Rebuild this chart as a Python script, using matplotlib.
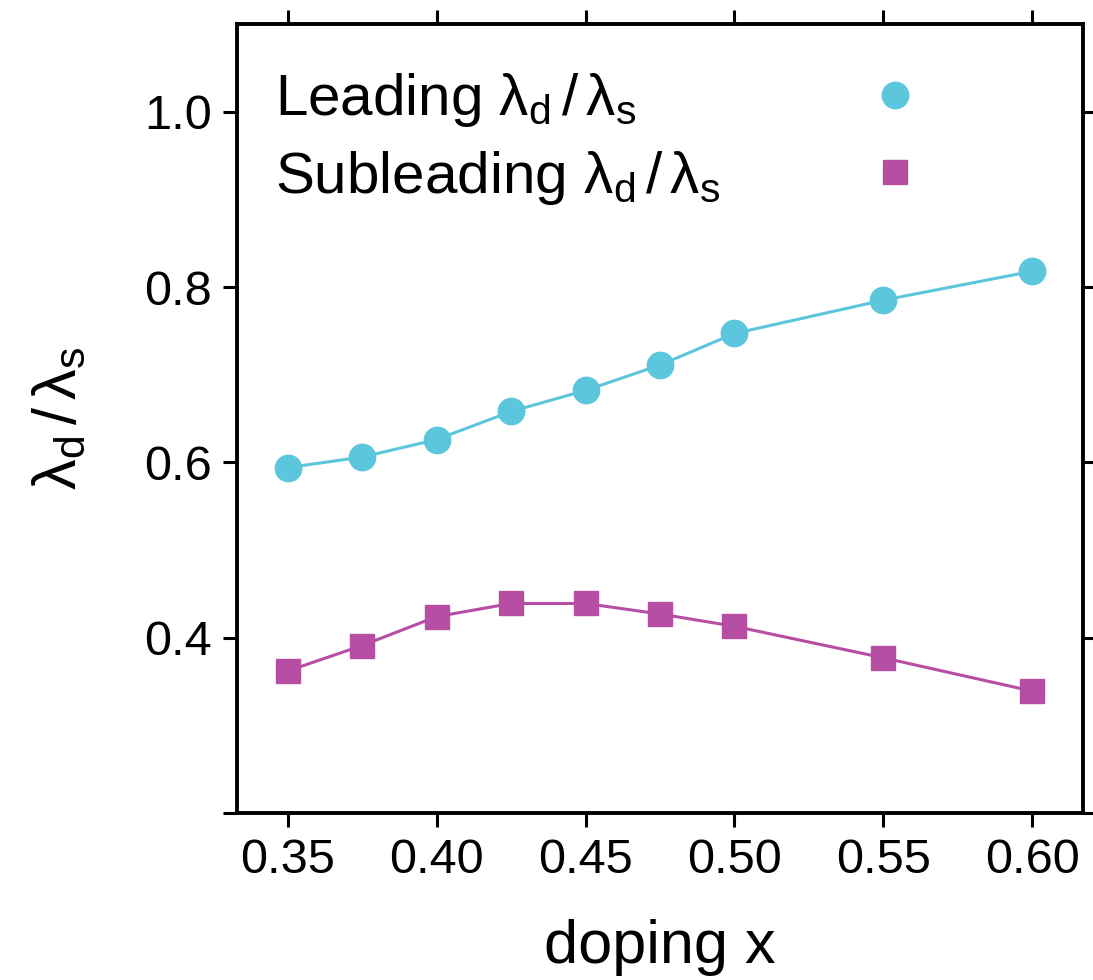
import matplotlib
matplotlib.use("Agg")
import matplotlib.pyplot as plt

plt.rcParams["font.family"] = ["Liberation Sans", "DejaVu Sans"]
plt.rcParams["mathtext.fontset"] = "custom"
plt.rcParams["mathtext.rm"] = "Liberation Sans"
plt.rcParams["mathtext.it"] = "Liberation Sans:italic"

doping = [0.35, 0.375, 0.40, 0.425, 0.45, 0.475, 0.50, 0.55, 0.60]
leading = [0.594, 0.606, 0.626, 0.658, 0.682, 0.711, 0.747, 0.785, 0.818]
subleading = [0.362, 0.391, 0.424, 0.439, 0.439, 0.427, 0.413, 0.377, 0.339]

x_ticks = [0.35, 0.40, 0.45, 0.50, 0.55, 0.60]
y_ticks = [0.2, 0.4, 0.6, 0.8, 1.0]
y_tick_labels = ["", "0.4", "0.6", "0.8", "1.0"]

CYAN = "#5cc6dc"
MAGENTA = "#b64ea4"
RATIO = r"$\mathrm{\lambda_d\,/\,\lambda_s}$"

fig = plt.figure(figsize=(10.93, 9.8), dpi=100)
ax = fig.add_axes([0.2168, 0.1704, 0.7741, 0.8051])

# connecting lines first, then markers carrying the legend labels
ax.plot(doping, leading, "-", color=CYAN, lw=2.2, zorder=2)
ax.plot(doping, subleading, "-", color=MAGENTA, lw=2.2, zorder=2)
ax.plot(doping, leading, "o", color=CYAN, ms=19, ls="none", zorder=3,
        label="Leading " + RATIO)
ax.plot(doping, subleading, "s", color=MAGENTA, ms=17, ls="none", zorder=3,
        label="Subleading " + RATIO)

ax.set_xlim(0.333, 0.617)
ax.set_ylim(0.2, 1.1)
ax.set_xticks(x_ticks, [f"{v:.2f}" for v in x_ticks])
ax.set_yticks(y_ticks, y_tick_labels)

for spine in ax.spines.values():
    spine.set_linewidth(2.8)
ax.tick_params(direction="out", length=10, width=2.2, labelsize=35, pad=8,
               top=True, right=True)

ax.set_xlabel("doping x", fontsize=44)
ax.set_ylabel(RATIO, fontsize=44)
ax.xaxis.set_label_coords(0.5, -0.134)
ax.yaxis.set_label_coords(-0.175, 0.5)

leg = ax.legend(loc="upper left", bbox_to_anchor=(0.045, 0.94), frameon=False,
                fontsize=42, markerfirst=False, handlelength=2.0,
                handletextpad=2.0, borderpad=0, borderaxespad=0,
                labelspacing=0.33)

# left-align the legend labels while keeping the markers in one column
fig.canvas.draw()
column = leg._legend_handle_box.get_children()[0]
column.align = "left"
widths = [t.get_window_extent().width for t in leg.get_texts()]
for row, w in zip(column.get_children(), widths):
    row.sep += (max(widths) - w) * 72 / fig.dpi

fig.savefig("out.png", dpi=100)
plt.close(fig)
